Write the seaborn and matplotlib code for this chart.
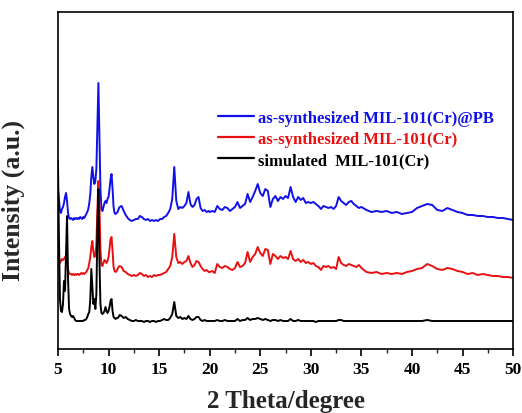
import pandas as pd
import matplotlib.pyplot as plt
import seaborn as sns
from matplotlib.ticker import MultipleLocator

# ─── Data (intensity in arbitrary units) ───
two_theta = [
    5.0, 5.1, 5.2, 5.3, 5.4, 5.5, 5.6, 5.7, 5.8, 5.9,
    6.0, 6.1, 6.2, 6.3, 6.4, 6.5, 6.6, 6.7, 6.8, 6.9,
    7.0, 7.1, 7.2, 7.3, 7.4, 7.5, 7.6, 7.7, 7.8, 7.9,
    8.0, 8.1, 8.2, 8.3, 8.4, 8.5, 8.6, 8.7, 8.8, 8.9,
    9.0, 9.1, 9.2, 9.3, 9.4, 9.5, 9.6, 9.7, 9.8, 9.9,
    10.0, 10.1, 10.2, 10.3, 10.4, 10.5, 10.6, 10.7, 10.8, 10.9,
    11.0,
    11.1, 11.3, 11.5, 11.7, 11.9, 12.1, 12.3, 12.5, 12.7, 12.9,
    13.1, 13.3, 13.5, 13.7, 13.9, 14.1, 14.3, 14.5, 14.7, 14.9,
    15.1, 15.3, 15.5, 15.7, 15.9, 16.1, 16.3, 16.5, 16.7, 16.9,
    17.1, 17.3, 17.5, 17.7, 17.9, 18.1, 18.3, 18.5, 18.7, 18.9,
    19.1, 19.3, 19.5, 19.7, 19.9,
    20.0, 20.25, 20.5, 20.75, 21.0, 21.25, 21.5, 21.75, 22.0, 22.25,
    22.5, 22.75, 23.0, 23.25, 23.5, 23.75, 24.0, 24.25, 24.5, 24.75,
    25.0, 25.25, 25.5, 25.75, 26.0, 26.25, 26.5, 26.75, 27.0, 27.25,
    27.5, 27.75, 28.0, 28.25, 28.5, 28.75, 29.0, 29.25, 29.5, 29.75,
    30.0, 30.25, 30.5, 30.75, 31.0, 31.25, 31.5, 31.75, 32.0, 32.25,
    32.5, 32.75, 33.0, 33.25, 33.5, 33.75, 34.0, 34.25, 34.5, 34.75,
    35.0,
    35.5, 36.0, 36.5, 37.0, 37.5, 38.0, 38.5, 39.0, 39.5, 40.0,
    40.5, 41.0, 41.5, 42.0, 42.5, 43.0, 43.5, 44.0, 44.5, 45.0,
    45.5, 46.0, 46.5, 47.0, 47.5, 48.0, 48.5, 49.0, 49.5, 50.0,
]

pb_counts = [
    160, 150, 138, 136, 140, 142, 146, 152, 156, 148,
    136, 131, 130, 131, 130, 129, 131, 130, 131, 130,
    131, 130, 132, 131, 130, 132, 131, 133, 135, 137,
    140, 146, 155, 172, 182, 172, 165, 168, 180, 225,
    266, 215, 160, 140, 138, 142, 146, 148, 146, 150,
    152, 160, 170, 175, 160, 142, 136, 135, 136, 137,
    140,
    142, 143, 138, 134, 131, 129, 128, 129, 130, 130,
    133, 132, 130, 129, 130, 128, 129, 128, 129, 128,
    130, 130, 132, 133, 136, 140, 150, 182, 148, 140,
    142, 141, 143, 146, 157, 145, 142, 144, 150, 152,
    141, 138, 139, 137, 138,
    137, 138, 137, 143, 140, 139, 142, 141, 138, 140,
    142, 147, 141, 143, 145, 155, 147, 152, 158, 165,
    156, 153, 160, 158, 142, 150, 153, 148, 152, 150,
    153, 151, 162, 152, 147, 152, 149, 151, 146, 147,
    146, 147, 145, 143, 140, 143, 142, 141, 142, 140,
    143, 152, 148, 146, 144, 147, 148, 145, 143, 141,
    142,
    139, 137, 138, 137, 138, 136, 137, 135, 136, 137,
    141, 143, 145, 144, 139, 138, 141, 139, 137, 136,
    134, 134, 133, 133, 132, 132, 131, 131, 130, 129,
]

mil_counts = [
    96, 90, 86, 88, 90, 89, 90, 92, 93, 86,
    79, 76, 75, 75, 74, 75, 74, 75, 74, 75,
    75, 74, 75, 76, 75, 76, 75, 76, 77, 79,
    81, 86, 92, 102, 108, 98, 92, 94, 105, 140,
    168, 145, 100, 84, 83, 86, 89, 88, 86, 88,
    92, 100, 110, 112, 98, 82, 78, 77, 78, 80,
    82,
    83, 82, 78, 77, 75, 74, 73, 74, 73, 74,
    76, 75, 73, 74, 72, 73, 72, 74, 73, 74,
    74, 75, 76, 77, 80, 83, 92, 115, 92, 86,
    87, 85, 87, 88, 93, 86, 82, 84, 88, 87,
    83, 80, 78, 79, 77,
    77, 78, 76, 85, 82, 81, 83, 82, 80, 79,
    81, 87, 82, 83, 86, 97, 87, 92, 95, 102,
    96, 93, 100, 99, 85, 95, 93, 90, 93, 91,
    92, 90, 98, 90, 88, 90, 87, 89, 86, 87,
    85, 86, 83, 82, 79, 83, 82, 83, 81, 82,
    80, 92, 86, 84, 83, 85, 84, 83, 82, 84,
    81,
    77, 76, 77, 75, 76, 75, 76, 75, 77, 78,
    80, 81, 85, 83, 80, 79, 81, 80, 78, 77,
    75, 76, 74, 75, 74, 73, 73, 72, 72, 71,
]

sim_counts = [
    188, 110, 50, 38, 37, 45, 68, 58, 95, 133,
    70, 40, 35, 33, 32, 33, 31, 29, 28, 28,
    28, 28, 28, 28, 28, 28, 29, 29, 30, 32,
    35, 37, 50, 80, 62, 45, 50, 40, 55, 120,
    160, 90, 45, 36, 35, 36, 38, 42, 38, 36,
    38, 42, 48, 50, 38, 32, 31, 30, 31, 31,
    32,
    34, 33, 31, 32, 30, 29, 28, 28, 29, 28,
    28, 28, 27, 28, 28, 27, 28, 28, 27, 28,
    28, 29, 30, 29, 29, 31, 35, 47, 33, 31,
    32, 30, 31, 30, 33, 30, 29, 30, 32, 32,
    29, 28, 29, 28, 28,
    28, 28, 28, 29, 28, 28, 29, 28, 28, 28,
    28, 30, 28, 29, 29, 31, 29, 30, 30, 31,
    30, 29, 30, 29, 28, 29, 29, 28, 29, 28,
    28, 28, 30, 28, 28, 29, 28, 28, 28, 28,
    28, 28, 27, 28, 28, 28, 28, 28, 28, 28,
    28, 29, 29, 28, 28, 28, 28, 28, 28, 28,
    28,
    28, 28, 28, 28, 28, 28, 28, 28, 28, 28,
    28, 28, 29, 28, 28, 28, 28, 28, 28, 28,
    28, 28, 28, 28, 28, 28, 28, 28, 28, 28,
]

sample_labels = ["as-synthesized MIL-101(Cr)@PB",
                 "as-synthesized MIL-101(Cr)",
                 "simulated  MIL-101(Cr)"]
sample_colors = ["#1010e8", "#e81010", "#000000"]


def build_frame():
    frames = []
    for label, counts in zip(sample_labels, [pb_counts, mil_counts, sim_counts]):
        frames.append(pd.DataFrame({"two_theta": two_theta,
                                    "intensity": counts,
                                    "sample": label}))
    return pd.concat(frames, ignore_index=True)


def main():
    df = build_frame()

    sns.set_theme(style="ticks")
    plt.rcParams['font.family'] = ['Liberation Serif', 'DejaVu Serif']
    plt.rcParams['font.weight'] = 'bold'

    fig = plt.figure(figsize=(5.22, 4.14), dpi=100)
    ax = fig.add_axes([0.111, 0.1546, 0.872, 0.814])

    sns.lineplot(data=df, x="two_theta", y="intensity", hue="sample",
                 hue_order=sample_labels, palette=sample_colors,
                 estimator=None, sort=False, linewidth=1.4, ax=ax)

    ax.set_xlim(5, 50)
    ax.set_ylim(0, 337)
    ax.set_xticks(range(5, 51, 5))
    ax.xaxis.set_minor_locator(MultipleLocator(2.5))
    ax.set_yticks([])
    ax.tick_params(axis='x', which='major', direction='out', length=5,
                   width=1.2, pad=4, labelsize=12.5, colors='black')
    ax.tick_params(axis='x', which='minor', direction='out', length=3,
                   width=1.0)
    for lab in ax.get_xticklabels():
        lab.set_fontweight('bold')
    for sp in ax.spines.values():
        sp.set_visible(True)
        sp.set_linewidth(1.2)
        sp.set_color('black')

    ax.set_xlabel("2 Theta/degree", fontsize=18, fontweight='bold', labelpad=8)
    ax.set_ylabel("Intensity (a.u.)", fontsize=18.5, fontweight='bold')
    ax.yaxis.set_label_coords(-0.072, 0.445)

    leg = ax.legend(loc='upper left', bbox_to_anchor=(0.334, 0.733),
                    frameon=False, borderpad=0, handlelength=2.15,
                    handletextpad=0.25, labelspacing=0.30,
                    labelcolor='linecolor',
                    prop={'family': ['Liberation Serif'], 'weight': 'bold',
                          'size': 12})
    for line in leg.get_lines():
        line.set_linewidth(1.6)

    fig.savefig("out.png", dpi=100, facecolor='white')
    plt.close(fig)


if __name__ == "__main__":
    main()
